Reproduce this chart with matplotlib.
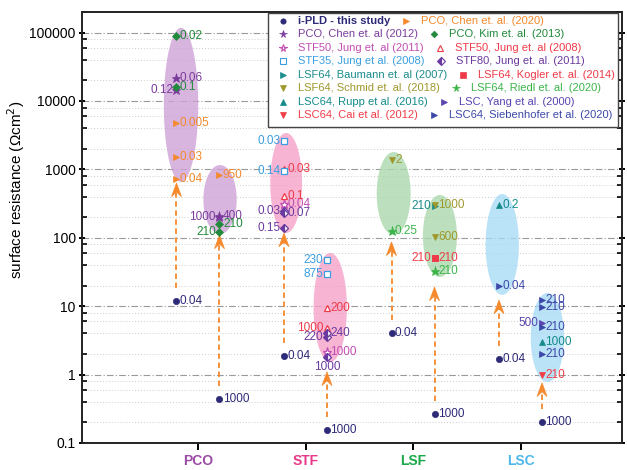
import numpy as np
import matplotlib
matplotlib.use("Agg")
import matplotlib.pyplot as plt
from matplotlib.patches import Rectangle, Polygon
from matplotlib.ticker import LogLocator, NullFormatter

plt.rcParams['font.family'] = ['Liberation Sans', 'DejaVu Sans']

# ---------------- data ----------------
categories = ["PCO", "STF", "LSF", "LSC"]
category_colors = ["#9b4aa6", "#e8388a", "#1aa84a", "#4db8ea"]

# column "L" = short-time data, "R" = long-time data; label = annotation text (h)
ipld_cat = ["PCO", "PCO", "STF", "STF", "LSF", "LSF", "LSC", "LSC"]
ipld_col = ["L", "R", "L", "R", "L", "R", "L", "R"]
ipld_val = [12, 0.44, 1.9, 0.155, 4.1, 0.265, 1.7, 0.2]
ipld_lab = ["0.04", "1000", "0.04", "1000", "0.04", "1000", "0.04", "1000"]

chen20_cat = ["PCO", "PCO", "PCO", "PCO"]
chen20_col = ["L", "L", "L", "R"]
chen20_val = [4800, 1500, 730, 830]
chen20_lab = ["0.005", "0.03", "0.04", "950"]

chen12_cat = ["PCO", "PCO", "PCO", "PCO"]
chen12_col = ["L", "L", "R", "R"]
chen12_val = [21700, 14500, 200, 205]
chen12_lab = ["0.06", "0.12", "1000", "400"]

kim_cat = ["PCO", "PCO", "PCO", "PCO"]
kim_col = ["L", "L", "R", "R"]
kim_val = [89000, 16000, 157, 123]
kim_lab = ["0.02", "0.1", "210", "210"]

jung11_50_cat = ["STF", "STF"]
jung11_50_col = ["L", "R"]
jung11_50_val = [312, 2.16]
jung11_50_lab = ["0.04", "1000"]

jung08_50_cat = ["STF", "STF", "STF", "STF"]
jung08_50_col = ["L", "L", "R", "R"]
jung08_50_val = [1000, 408, 9.3, 4.75]
jung08_50_lab = ["0.03", "0.1", "200", "1000"]

jung08_35_cat = ["STF", "STF", "STF", "STF"]
jung08_35_col = ["L", "L", "R", "R"]
jung08_35_val = [2630, 960, 47.4, 29.6]
jung08_35_lab = ["0.03", "0.14", "230", "875"]

jung11_80_cat = ["STF", "STF", "STF", "STF", "STF", "STF"]
jung11_80_col = ["L", "L", "L", "R", "R", "R"]
jung11_80_val = [247, 231, 141, 3.6, 4.1, 1.79]
jung11_80_lab = ["0.03", "0.07", "0.15", "220", "240", "1000"]

baumann_cat = ["LSF"]
baumann_col = ["R"]
baumann_val = [295]
baumann_lab = ["210"]

kogler_cat = ["LSF", "LSF"]
kogler_col = ["R", "R"]
kogler_val = [50, 50]
kogler_lab = ["210", "210"]

schmid_cat = ["LSF", "LSF", "LSF"]
schmid_col = ["L", "R", "R"]
schmid_val = [1370, 300, 102]
schmid_lab = ["2", "1000", "600"]

riedl_cat = ["LSF", "LSF"]
riedl_col = ["L", "R"]
riedl_val = [126, 32.7]
riedl_lab = ["0.25", "210"]

rupp_cat = ["LSC", "LSC"]
rupp_col = ["L", "R"]
rupp_val = [302, 2.97]
rupp_lab = ["0.2", "1000"]

yang_cat = ["LSC"]
yang_col = ["R"]
yang_val = [5.6]
yang_lab = ["500"]

cai_cat = ["LSC"]
cai_col = ["R"]
cai_val = [0.99]
cai_lab = ["210"]

sieb_cat = ["LSC", "LSC", "LSC", "LSC", "LSC"]
sieb_col = ["L", "R", "R", "R", "R"]
sieb_val = [19.7, 12.3, 9.8, 4.9, 1.98]
sieb_lab = ["0.04", "210", "210", "210", "210"]

# ---------------- label placement (r = right, l = left, b = below) ----------------
ipld_side = ["r"] * 8
chen20_side = ["r", "r", "r", "r"]
chen12_side = ["r", "l", "l", "r"]
kim_side = ["r", "r", "r", "l"]
jung11_50_side = ["r", "r"]
jung08_50_side = ["r", "r", "r", "l"]
jung08_35_side = ["l", "l", "l", "l"]
jung11_80_side = ["l", "r", "l", "l", "r", "b"]
baumann_side = ["l"]
kogler_side = ["l", "r"]
schmid_side = ["r", "r", "r"]
riedl_side = ["r", "r"]
rupp_side = ["r", "r"]
yang_side = ["l"]
cai_side = ["r"]
sieb_side = ["r", "r", "r", "r", "r"]

series = [
    dict(name="i-PLD - this study", cat=ipld_cat, col=ipld_col, val=ipld_val, lab=ipld_lab, side=ipld_side,
         marker="o", color="#2d2a78", ms=4.5, fill="full", bold=True),
    dict(name="PCO, Chen et. al. (2020)", cat=chen20_cat, col=chen20_col, val=chen20_val, lab=chen20_lab, side=chen20_side,
         marker=">", color="#f5892c", ms=5, fill="full"),
    dict(name="PCO, Chen et. al (2012)", cat=chen12_cat, col=chen12_col, val=chen12_val, lab=chen12_lab, side=chen12_side,
         marker="*", color="#7a3c9c", ms=6.5, fill="full"),
    dict(name="PCO, Kim et. al. (2013)", cat=kim_cat, col=kim_col, val=kim_val, lab=kim_lab, side=kim_side,
         marker="D", color="#218a3c", ms=4, fill="full"),
    dict(name="STF50, Jung et. al (2011)", cat=jung11_50_cat, col=jung11_50_col, val=jung11_50_val, lab=jung11_50_lab,
         side=jung11_50_side, marker="*", color="#c24db4", ms=6.5, fill="none"),
    dict(name="STF50, Jung et. al (2008)", cat=jung08_50_cat, col=jung08_50_col, val=jung08_50_val, lab=jung08_50_lab,
         side=jung08_50_side, marker="^", color="#ee3a48", ms=5, fill="none"),
    dict(name="STF35, Jung et al. (2008)", cat=jung08_35_cat, col=jung08_35_col, val=jung08_35_val, lab=jung08_35_lab,
         side=jung08_35_side, marker="s", color="#3a9ee0", ms=4.5, fill="none"),
    dict(name="STF80, Jung et. al. (2011)", cat=jung11_80_cat, col=jung11_80_col, val=jung11_80_val, lab=jung11_80_lab,
         side=jung11_80_side, marker="D", color="#6a3aa0", ms=4.5, fill="left"),
    dict(name="LSF64, Baumann et. al (2007)", cat=baumann_cat, col=baumann_col, val=baumann_val, lab=baumann_lab,
         side=baumann_side, marker=">", color="#1a8c8c", ms=5, fill="full"),
    dict(name="LSF64, Kogler et. al. (2014)", cat=kogler_cat, col=kogler_col, val=kogler_val, lab=kogler_lab,
         side=kogler_side, marker="s", color="#ee3a48", ms=4.5, fill="full"),
    dict(name="LSF64, Schmid et. al. (2018)", cat=schmid_cat, col=schmid_col, val=schmid_val, lab=schmid_lab,
         side=schmid_side, marker="v", color="#9e982c", ms=5, fill="full"),
    dict(name="LSF64, Riedl et. al. (2020)", cat=riedl_cat, col=riedl_col, val=riedl_val, lab=riedl_lab,
         side=riedl_side, marker="*", color="#3cb44a", ms=6.5, fill="full"),
    dict(name="LSC64, Rupp et al. (2016)", cat=rupp_cat, col=rupp_col, val=rupp_val, lab=rupp_lab,
         side=rupp_side, marker="^", color="#148a8a", ms=5, fill="full"),
    dict(name="LSC, Yang et al. (2000)", cat=yang_cat, col=yang_col, val=yang_val, lab=yang_lab,
         side=yang_side, marker=">", color="#5a44b0", ms=5, fill="full"),
    dict(name="LSC64, Cai et al. (2012)", cat=cai_cat, col=cai_col, val=cai_val, lab=cai_lab,
         side=cai_side, marker="v", color="#f03c46", ms=5, fill="full"),
    dict(name="LSC64, Siebenhofer et al. (2020)", cat=sieb_cat, col=sieb_col, val=sieb_val, lab=sieb_lab,
         side=sieb_side, marker=">", color="#3c48a8", ms=5, fill="full"),
]

# ---------------- layout ----------------
W, H = 627, 470
AX_L, AX_R, AX_T, AX_B = 82, 622, 12, 443
fig = plt.figure(figsize=(W / 100, H / 100), dpi=100)
ax = fig.add_axes([AX_L / W, (H - AX_B) / H, (AX_R - AX_L) / W, (AX_B - AX_T) / H])

cat_pos = {c: i + 1 for i, c in enumerate(categories)}
col_off = {"L": -0.2, "R": 0.2}
ax.set_xlim(-0.079, 4.944)
ax.set_yscale("log")
ax.set_ylim(0.1, 2.0e5)

def xpos(cat, col):
    return cat_pos[cat] + col_off[col]

# ellipses: (category, x offset, half width, log10 top, log10 bottom)
ellipses = [
    ("PCO", -0.158, 0.16, 5.07, 2.816),
    ("PCO", 0.205, 0.155, 3.064, 2.056),
    ("STF", -0.18, 0.148, 3.532, 2.07),
    ("STF", 0.23, 0.155, 1.778, 0.184),
    ("LSF", -0.18, 0.158, 3.254, 2.041),
    ("LSF", 0.25, 0.158, 2.626, 1.427),
    ("LSC", -0.17, 0.155, 2.64, 1.164),
    ("LSC", 0.25, 0.155, 1.193, -0.108),
]
ellipse_colors = {"PCO": "#cfa3d6", "STF": "#f5a1c8", "LSF": "#acd9ae", "LSC": "#aadcf5"}
t = np.linspace(0, 2 * np.pi, 240)
for cat, off, hw, ltop, lbot in ellipses:
    lc, hh = (ltop + lbot) / 2, (ltop - lbot) / 2
    ax.fill(cat_pos[cat] + off + hw * np.cos(t), 10 ** (lc + hh * np.sin(t)),
            color=ellipse_colors[cat], alpha=0.8, lw=0, zorder=1)

# arrows from i-PLD points up to literature clusters (log10 tip heights)
arrow_tips = [2.80, 2.04, 2.07, 0.04, 1.94, 1.28, 1.09, -0.12]
orange = "#f5892c"
for cat, col, v, tip in zip(ipld_cat, ipld_col, ipld_val, arrow_tips):
    x = xpos(cat, col)
    y0 = v * 10 ** 0.19
    y1 = 10 ** tip
    ax.plot([x, x], [y0, y1 / 10 ** 0.1], ls=(0, (3, 2)), color=orange, lw=1.3, zorder=2)
    hx = 5.0 / 107.5         # head half width (data units)
    hl = 0.20                # head length (decades)
    nb = 0.13                # notch position (decades)
    head = Polygon([[x, y1], [x - hx, y1 / 10 ** hl], [x, y1 / 10 ** nb], [x + hx, y1 / 10 ** hl]],
                   closed=True, facecolor=orange, edgecolor=orange, lw=0.5, zorder=2)
    ax.add_patch(head)

# markers and labels
for s in series:
    xs = [xpos(c, k) for c, k in zip(s["cat"], s["col"])]
    if s["fill"] == "none":
        kw = dict(mfc="white", mec=s["color"], mew=0.9)
    elif s["fill"] == "left":
        kw = dict(fillstyle="left", mfc=s["color"], mfcalt="white", mec=s["color"], mew=0.9)
    else:
        kw = dict(mfc=s["color"], mec=s["color"], mew=0.5)
    ax.plot(xs, s["val"], ls="none", marker=s["marker"], ms=s["ms"], zorder=3, **kw)
    for x, v, lab, side in zip(xs, s["val"], s["lab"], s["side"]):
        if side == "r":
            ax.annotate(lab, (x, v), xytext=(2.5, 0), textcoords="offset points", ha="left", va="center",
                        fontsize=8.5, color=s["color"], zorder=4)
        elif side == "l":
            ax.annotate(lab, (x, v), xytext=(-2.5, 0), textcoords="offset points", ha="right", va="center",
                        fontsize=8.5, color=s["color"], zorder=4)
        else:
            ax.annotate(lab, (x, v), xytext=(0, -3), textcoords="offset points", ha="center", va="top",
                        fontsize=8.5, color=s["color"], zorder=4)

# axes styling
for sp in ax.spines.values():
    sp.set_linewidth(1.4)
    sp.set_color("#222222")
ax.yaxis.set_minor_locator(LogLocator(base=10, subs=[2, 4, 6, 8], numticks=20))
ax.yaxis.set_minor_formatter(NullFormatter())
ax.set_yticks([0.1, 1, 10, 100, 1000, 10000, 100000])
ax.set_yticklabels(["0.1", "1", "10", "100", "1000", "10000", "100000"], fontsize=10)
ax.tick_params(axis="y", which="major", direction="inout", length=5, width=1.4, right=True, pad=2)
ax.tick_params(axis="y", which="minor", direction="in", length=3.5, width=1.2, right=True)
ax.set_xticks([cat_pos[c] for c in categories])
ax.set_xticklabels(categories, fontsize=10, fontweight="bold")
for lbl, c in zip(ax.get_xticklabels(), category_colors):
    lbl.set_color(c)
ax.tick_params(axis="x", which="major", direction="out", length=5, width=1.4, pad=3)
ax.tick_params(axis="x", which="minor", bottom=False, top=False)
ax.grid(True, which="major", axis="y", ls=(0, (6, 2, 1, 2)), color="#999999", lw=0.8, zorder=0)
ax.grid(True, which="minor", axis="y", ls=(0, (1, 2)), color="#cccccc", lw=0.7, zorder=0)
ax.set_axisbelow(True)
ax.set_ylabel("surface resistance (\u03a9cm$^2$)", fontsize=11)
ax.yaxis.set_label_coords((27 - AX_L) / (AX_R - AX_L), (AX_B - 190) / (AX_B - AX_T))

# manual two-entry-per-row legend
def fx(px):
    return (px - AX_L) / (AX_R - AX_L)

def fy(py):
    return (AX_B - py) / (AX_B - AX_T)

ax.add_patch(Rectangle((fx(268), fy(127)), fx(618) - fx(268), fy(13) - fy(127), transform=ax.transAxes,
                       facecolor="white", edgecolor="#444444", lw=1.0, zorder=5, clip_on=False))
row_y = [20.7, 34.2, 47.7, 61.2, 74.7, 88.2, 101.7, 115.2]
fig.canvas.draw()
renderer = fig.canvas.get_renderer()
for r in range(8):
    y = fy(row_y[r])
    xm = 283
    for j in range(2):
        s = series[2 * r + j]
        if s["fill"] == "none":
            kw = dict(mfc="white", mec=s["color"], mew=0.8)
        elif s["fill"] == "left":
            kw = dict(fillstyle="left", mfc=s["color"], mfcalt="white", mec=s["color"], mew=0.8)
        else:
            kw = dict(mfc=s["color"], mec=s["color"], mew=0.5)
        ax.plot([fx(xm)], [y], transform=ax.transAxes, marker=s["marker"], ms=s["ms"] * 0.85, ls="none",
                clip_on=False, zorder=6, **kw)
        txt = ax.text(fx(xm + 15), y, s["name"], transform=ax.transAxes, ha="left", va="center", fontsize=8,
                      color=s["color"], fontweight="bold" if s.get("bold") else "normal", zorder=6)
        bb = txt.get_window_extent(renderer)
        xm = bb.x1 + 16

fig.savefig("out.png", dpi=100)
